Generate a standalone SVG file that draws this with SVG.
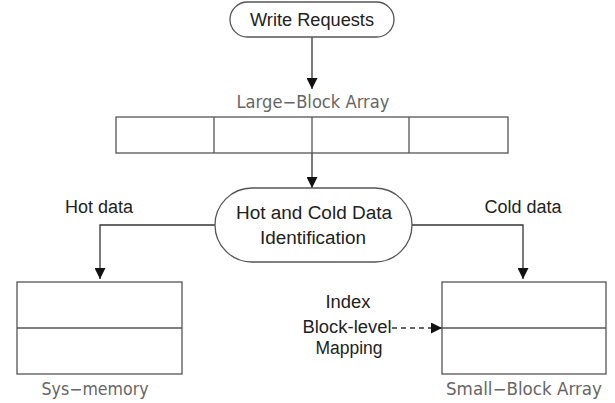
<svg xmlns="http://www.w3.org/2000/svg" width="615" height="403" viewBox="0 0 615 403">
<style>
.box{fill:#fff;stroke:#555;stroke-width:1.3}
.ln{fill:none;stroke:#333;stroke-width:1.3}
.t{font-family:"Liberation Sans",Arial,sans-serif;font-size:18px;fill:#222;text-anchor:middle}
.g{font-family:"DejaVu Sans","Liberation Sans",sans-serif;font-size:17px;fill:#666;text-anchor:middle}
</style>
<defs>
<marker id="ah" viewBox="0 0 10 10" refX="10" refY="5" markerWidth="11" markerHeight="11" markerUnits="userSpaceOnUse" orient="auto">
<path d="M0,0 L10,5 L0,10 Z" fill="#111"/>
</marker>
</defs>
<g id="connectors">
<line class="ln" x1="312" y1="37" x2="312" y2="89" marker-end="url(#ah)"/>
<line class="ln" x1="312" y1="153" x2="312" y2="188" marker-end="url(#ah)"/>
<polyline class="ln" points="215,225 100,225 100,279" marker-end="url(#ah)"/>
<polyline class="ln" points="412,225 523,225 523,279" marker-end="url(#ah)"/>
<line class="ln" x1="392" y1="328" x2="442" y2="328" stroke-dasharray="5,4" marker-end="url(#ah)"/>
</g>
<g id="write-requests">
<rect class="box" x="230" y="2" width="164" height="35" rx="17.5"/>
<text class="t" x="312" y="26" textLength="124" lengthAdjust="spacingAndGlyphs">Write Requests</text>
</g>
<g id="large-block-array">
<text class="g" x="313" y="108" textLength="153" lengthAdjust="spacingAndGlyphs">Large−Block Array</text>
<rect class="box" x="116" y="117" width="392" height="36"/>
<line class="box" x1="214" y1="117" x2="214" y2="153"/>
<line class="box" x1="312" y1="117" x2="312" y2="153"/>
<line class="box" x1="409" y1="117" x2="409" y2="153"/>
</g>
<g id="hot-cold-identification">
<rect class="box" x="215" y="188" width="197" height="74" rx="37"/>
<text class="t" x="314" y="219" textLength="156" lengthAdjust="spacingAndGlyphs">Hot and Cold Data</text>
<text class="t" x="313" y="244" textLength="106" lengthAdjust="spacingAndGlyphs">Identification</text>
</g>
<g id="hot-data-label">
<text class="t" x="99" y="213" textLength="68" lengthAdjust="spacingAndGlyphs">Hot data</text>
</g>
<g id="cold-data-label">
<text class="t" x="523" y="213" textLength="77" lengthAdjust="spacingAndGlyphs">Cold data</text>
</g>
<g id="sys-memory">
<rect class="box" x="17" y="282" width="165" height="92"/>
<line class="box" x1="17" y1="328" x2="182" y2="328"/>
<text class="g" x="95" y="395" textLength="107" lengthAdjust="spacingAndGlyphs">Sys−memory</text>
</g>
<g id="small-block-array">
<rect class="box" x="442" y="282" width="164" height="92"/>
<line class="box" x1="442" y1="328" x2="606" y2="328"/>
<text class="g" x="524" y="395" textLength="156" lengthAdjust="spacingAndGlyphs">Small−Block Array</text>
</g>
<g id="index-label">
<text class="t" x="348" y="308" textLength="45" lengthAdjust="spacingAndGlyphs">Index</text>
<text class="t" x="347" y="333" textLength="89" lengthAdjust="spacingAndGlyphs">Block-level</text>
<text class="t" x="349" y="354" textLength="67" lengthAdjust="spacingAndGlyphs">Mapping</text>
</g>
</svg>
